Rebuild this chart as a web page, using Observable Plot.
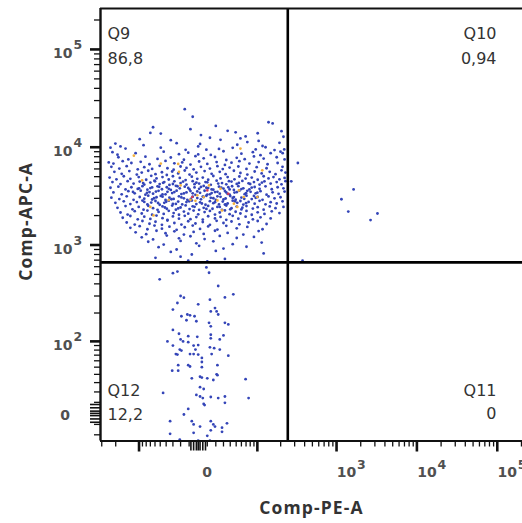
<!DOCTYPE html>
<html>
<head>
<meta charset="utf-8">
<script src="https://cdn.jsdelivr.net/npm/d3@7"></script>
<script src="https://cdn.jsdelivr.net/npm/@observablehq/plot@0.6"></script>
<style>
  html, body { margin: 0; padding: 0; background: #fff; overflow: hidden; }
  #chart { width: 522px; height: 523px; }
  .axis-title text { letter-spacing: 1.1px; }
</style>
</head>
<body>
<div id="chart"></div>
<script>
// ---------------- DATA (raw compensated fluorescence values) ----------------
// Q9 population (APC+ / PE-)
const q9PE = [
 -15, -6, 140,158, -64,20,-8.5,205, -70,-49,3,36,49,101,
 13,26,58,104,-98,217,-33,69,
 -202,-174,-25,52,73,117,193,-87,2,
 -150,-49,-14,0,24,44,95,128,167,-233,9,
 -220,-190,-111,-44,-22,-11,14,30,60,87,110,149,199,0,
 -185,-138,-82,-55,-33,-16,-3,6,19,34,51,67,90,121,178,224,
 -245,-214,-163,-126,-95,-72,-41,-28,-18,-8.5,1,10,21,32,42,56,78,104,136,183,
 -227,-180,-145,-104,-85,-66,-51,-38,-29,-20,-13,-5,3,13,22,29,39,54,71,98,132,211,
 -208,-168,-134,-107,-92,-75,-59,-47,-39,-31,-23,-15,-9.5,-2,7,15,25,33,46,58,73,92,114,145,172,230,
 -239,-196,-158,-130,-101,-80,-68,-57,-46,-36,-30,-21,-14,-7,-1,5,11,17,26,36,47,56,69,84,101,121,140,162,193,224,
 -220,-174,-141,-118,-98,-85,-70,-61,-51,-43,-35,-28,-20,-13,-6,1,8,14,21,28,34,42,51,62,76,90,107,124,149,178,205,230,-2,
 -233,-185,-150,-126,-104,-90,-77,-66,-55,-47,-39,-33,-26,-21,-15,-9.5,-4,1,6,11,17,24,30,37,46,54,64,78,92,107,128,154,183,217,39,9,
 -214,-168,-138,-114,-95,-82,-72,-64,-53,-46,-38,-31,-25,-19,-13,-8.5,-3,2,7,13,19,25,32,39,47,56,67,81,95,110,132,158,188,224,15,34,73,-6,
 -227,-180,-145,-118,-98,-85,-75,-66,-57,-49,-41,-35,-29,-22,-16,-12,-6,-1,3,9,14,20,26,33,40,49,60,71,84,101,117,140,167,199,22,44,90,6,
 -202,-158,-130,-107,-90,-77,-68,-59,-51,-43,-36,-30,-23,-18,-13,-7,-2,2,8,13,17,24,29,36,44,52,64,76,92,107,128,149,178,211,58,32,
 -190,-150,-122,-101,-87,-75,-64,-55,-46,-39,-31,-26,-20,-14,-9.5,-4,1,6,11,16,22,28,34,42,51,60,71,87,101,121,145,172,217,
 -174,-141,-114,-92,-77,-66,-53,-44,-36,-29,-22,-16,-11,-5,0,7,13,19,25,32,39,49,58,71,84,101,124,154,193,
 -163,-130,-104,-85,-70,-57,-46,-38,-30,-22,-15,-8.5,-2,5,11,19,26,34,44,54,69,87,110,149,
 -145,-114,-90,-72,-59,-47,-38,-28,-19,-11,-3,5,13,21,30,42,56,76,101,132,
 -130,-98,-77,-61,-47,-35,-25,-15,-6,2,11,22,34,51,73,117,
 -111,-80,-57,-41,-28,-16,-5,6,19,36,64,104,
 -92,-64,-39,-22,-8.5,7,25,51,90,
 -75,-44,-20,-2,17,44,114,
 -53,-25,1,30,71,
 -33,-7,20,121,
 -20,32,-59,
 -11,10,
 212,222,205,
 -60,-45,-30,-17,-4,10,23,38,55,80,-88,115,
 -70,-52,-36,-24,-11,3,15,27,43,60,84,-100,
 -78,-58,-41,-28,-16,-1,10,22,36,51,70,100,-120,
 -62,-46,-32,-19,-8,5,17,30,46,66,95,
 -54,-40,-26,-10,4,19,33,48,70,-85,
 -42,-23,-6,9,25,40,62
];
const q9APC = [
 24500, 20500, 18000,17500, 16000,16500,15300,14600, 14000,13800,13300,14700,14200,13900,
 12500,11900,12300,11600,12100,12800,11800,12900,
 10900,10200,11000,10600,11300,10300,11100,10500,10800,
 9700,9900,9400,10200,9600,9850,9500,10000,9350,9900,9450,
 8900,8400,8700,9000,8500,8800,8350,9100,8600,8900,8300,8700,9000,8450,
 7900,7500,8000,7600,7850,7450,8100,7700,7950,7400,7800,7550,8050,7650,7900,7500,
 7000,6800,7200,6900,7100,6700,7250,6850,7000,6650,7150,6750,7050,6600,6950,7200,6800,7050,6700,6900,
 6300,6050,6400,5950,6250,6000,6450,6100,5900,6350,6150,5950,6300,6050,6400,5980,6200,6350,6000,6250,6100,6300,
 5600,5350,5700,5250,5500,5750,5300,5550,5200,5650,5400,5780,5250,5500,5700,5350,5600,5300,5750,5450,5250,5650,5400,5600,5300,5500,
 4900,4700,5050,4750,4950,4650,5100,4800,4950,4680,5050,4850,4620,5000,4750,4900,4650,5080,4800,4950,4700,5020,4780,4900,4650,5050,4800,4950,4700,4850,
 4400,4200,4500,4250,4450,4150,4350,4550,4200,4400,4120,4480,4300,4150,4500,4250,4400,4130,4550,4300,4180,4450,4220,4520,4280,4400,4150,4480,4250,4400,4180,4500,4350,
 3850,3950,3700,3900,3750,4000,3680,3880,3980,3720,3900,3660,4030,3800,3950,3700,3880,3760,4020,3820,3680,3950,3780,3900,3660,4000,3800,3700,3920,3760,3980,3720,3900,3800,3700,3850,
 3450,3300,3550,3380,3600,3270,3480,3350,3580,3290,3500,3400,3600,3320,3450,3560,3260,3420,3590,3300,3480,3350,3570,3280,3440,3600,3310,3500,3380,3550,3270,3460,3340,3520,3400,3450,3580,3380,
 3050,2950,3150,2900,3100,2980,3200,2920,3080,3180,2890,3050,2960,3150,3000,2900,3120,3020,2930,3190,3040,2890,3110,2990,3170,2910,3060,3200,2950,3100,2900,3140,3000,3080,3150,3030,3180,3100,
 2700,2800,2620,2750,2850,2600,2720,2820,2580,2700,2840,2640,2780,2600,2750,2850,2620,2730,2580,2810,2680,2600,2780,2660,2840,2700,2590,2760,2650,2830,2610,2740,2660,2800,2820,2590,
 2400,2500,2320,2450,2300,2520,2380,2290,2480,2350,2530,2300,2420,2540,2330,2460,2290,2400,2510,2350,2450,2290,2530,2380,2470,2310,2500,2360,2440,2300,2480,2380,2450,
 2150,2050,2220,2100,2250,2040,2180,2080,2240,2120,2040,2200,2090,2250,2060,2170,2230,2050,2150,2260,2070,2190,2100,2230,2040,2160,2080,2210,2120,
 1900,1980,1830,1950,1850,2000,1880,1810,1960,1860,1990,1840,1930,1820,1970,1870,1940,1810,1990,1860,1950,1830,1920,1870,
 1700,1620,1760,1650,1730,1610,1780,1680,1620,1750,1660,1720,1610,1770,1680,1740,1630,1700,1760,1640,
 1500,1560,1450,1580,1470,1540,1430,1520,1580,1460,1550,1440,1570,1480,1530,1450,
 1350,1290,1400,1320,1380,1280,1360,1300,1400,1330,1280,1390,
 1200,1140,1250,1170,1230,1150,1240,1180,1210,
 1080,1010,1100,1040,1090,1020,1060,
 950,900,980,920,960,
 850,800,870,820,
 760,720,740,
 690,680,
 8700,9500,5800,
 4480,4330,4210,4460,4190,4380,4250,4500,4320,4210,4300,4350,
 3820,3940,3760,3990,3830,3930,3700,3860,3990,3730,3870,3800,
 3420,3520,3300,3480,3370,3530,3280,3500,3330,3470,3390,3430,3490,
 3010,3120,2940,3070,2960,3130,3010,2920,3090,2970,3040,
 2690,2770,2630,2800,2660,2740,2610,2790,2680,2760,
 2420,2370,2490,2340,2450,2320,2410
];
// higher-density events (shown orange / red by the density colouring)
const q9DensePE  = [-117,-91,-70,-63,-49,-23,-22,-1,6,22,28,52,55,65,58,116,-8.5,-3,-36,26,46,-20,12,100];
const q9DenseAPC = [8200,4580,2450,2010,6800,6750,5600,3220,3100,2860,2260,2450,3620,3100,9700,5800,2900,2830,2880,3770,2650,4070,4070,3100];
const q9PeakPE  = [-6.5, 37, 10];
const q9PeakAPC = [3100, 3350, 3620];
// Q12 population (APC- / PE-)
const q12PE = [
 -51,-30,-24,9,12,23,45,32,-20,-16, -24,0,13,-30,14,19,21,23,-12,-9,
 -19,-4,-13,-2,12,14,32,37,-30,-22, -11,-1,14,14,30,25,-38,-20,-17,-11,
 -30,-5,0,13,18,-21,-19,-3,25,-26, -24,-9,-5,0,4,15,37,4,-23,-11,
 -9,22,4,-31,-23,21,22,-7,2,4, 10,17,69,-45,2,6,-2,2,5,14,
 23,32,32,76,6,7,-11,-16,-34,-7, -5,2,14,17,35,28,28,-34,-5,10,
 -21,0,13,14,19
];
const q12APC = [
 445,515,535,590,520,380,312,290,300,288, 254,246,275,217,208,225,208,193,193,189,
 185,185,168,164,158,145,158,152,133,121, 114,112,118,108,116,105,100,105,100,98,
 90,90,91,86,84,81,79,81,81,72, 71,72,72,71,65,72,69,58,53,53,
 51,53,50,45,45,40,39,35,37,36, 35,33,34,19,25,23,17,15.5,14,15,
 14,15.5,9.5,14,8.5,7.5,4,-1,-7,-7, -10,-12,-7,-10,-9,-13,-17,-19,-18,-21,
 -25,-26,-26,-15.6,-12
];
// Q10 population (APC+ / PE+)
const q10PE  = [329, 272, 1150, 1630, 1400, 2650, 3230, 377];
const q10APC = [6900, 4480, 2940, 3700, 2200, 1800, 2100, 690];

// quadrant gate and statistics
const gatePE = 246;
const gateAPC = 664;
const quadNames = ["Q9", "Q10", "Q11", "Q12"];
const quadPcts  = ["86,8", "0,94", "0", "12,2"];

// axes
const xExtent = [-311, 206000];
const yExtent = [-26.5, 262144];
const xPowers = [1000, 10000, 100000];
const xPowerExp = ["3", "4", "5"];
const yPowers = [100, 1000, 10000, 100000];
const yPowerExp = ["2", "3", "4", "5"];
const zeroTick = [0];
const zeroLabel = ["0"];
const xTitle = "Comp-PE-A";
const yTitle = "Comp-APC-A";

// ---------------- biexponential (arcsinh) display transform ----------------
const W = 38;
const T = v => Math.asinh(v / W) / Math.LN10;

const zip = (a, b) => a.map((v, i) => ({pe: v, apc: b[i]}));
const events = zip(q9PE, q9APC).concat(zip(q12PE, q12APC), zip(q10PE, q10APC));
const dense = zip(q9DensePE, q9DenseAPC);
const peak = zip(q9PeakPE, q9PeakAPC);

// tick value sets
const inX = v => v >= xExtent[0] && v <= xExtent[1];
const inY = v => v >= yExtent[0] && v <= yExtent[1];
const mults = [2,3,4,5,6,7,8,9];
const minorBase = [];
for (const d of [10, 100, 1000, 10000, 100000]) for (const k of mults) minorBase.push(k * d);
minorBase.push(10);
const fine = [2, 5, 8];
const xMajor = [-100, 100, 1000, 10000, 100000].filter(inX);
const xMinor = minorBase.concat(minorBase.map(v => -v)).filter(inX);
const xFine = fine.concat(fine.map(v => -v), [0]).filter(inX);
const yMajor = [100, 1000, 10000, 100000].filter(inY);
const yMinor = minorBase.concat(minorBase.map(v => -v)).filter(inY);
const yFine = fine.concat(fine.map(v => -v), [0]).filter(inY);

const blank = () => "";
const labelStyle = {fontSize: 14, fontWeight: "bold", fill: "#505050", lineAnchor: "middle"};
const supStyle = {fontSize: 12.5, fontWeight: "bold", fill: "#505050", lineAnchor: "middle"};
const quadStyle = {fontSize: 16, fill: "#333", lineAnchor: "middle"};
const titleStyle = {lineAnchor: "middle", fontSize: 17.5, fontWeight: "bold", fontFamily: "Open Sans", fill: "#333", className: "axis-title"};

const quadMark = (i, anchor, tAnchor, dx, dyName, dyPct) => [
  Plot.text([quadNames[i]], {text: d => d, frameAnchor: anchor, textAnchor: tAnchor, dx, dy: dyName, ...quadStyle}),
  Plot.text([quadPcts[i]], {text: d => d, frameAnchor: anchor, textAnchor: tAnchor, dx, dy: dyPct, ...quadStyle})
];

const plot = Plot.plot({
  width: 522,
  height: 523,
  marginLeft: 100,
  marginRight: 0,
  marginTop: 8,
  marginBottom: 82.5,
  style: {fontFamily: "DejaVu Sans, sans-serif", background: "white", overflow: "hidden"},
  x: {type: "linear", domain: xExtent.map(T)},
  y: {type: "linear", domain: yExtent.map(T)},
  marks: [
    // events
    Plot.dot(events, {x: d => T(d.pe), y: d => T(d.apc), r: 1.4, fill: "#3445b8"}),
    Plot.dot(dense, {x: d => T(d.pe), y: d => T(d.apc), r: 1.35, fill: "#f2b03c"}),
    Plot.dot(peak, {x: d => T(d.pe), y: d => T(d.apc), r: 1.3, fill: "#d93a55"}),
    // quadrant gate
    Plot.ruleX([T(gatePE)], {stroke: "black", strokeWidth: 2.6}),
    Plot.ruleY([T(gateAPC)], {stroke: "black", strokeWidth: 2.6}),
    // frame (right side is cut off by the window)
    Plot.ruleY([T(yExtent[1]), T(yExtent[0])], {stroke: "#111", strokeWidth: 2}),
    Plot.ruleX([T(xExtent[0])], {stroke: "#111", strokeWidth: 2.4}),
    // x axis ticks
    Plot.axisX(xMinor.map(T), {anchor: "bottom", tickSize: 6, strokeWidth: 1.3, stroke: "#111", tickFormat: blank, label: null}),
    Plot.axisX(xFine.map(T), {anchor: "bottom", tickSize: 10, strokeWidth: 1.6, stroke: "#111", tickFormat: blank, label: null}),
    Plot.axisX(xMajor.map(T), {anchor: "bottom", tickSize: 11, strokeWidth: 2.6, stroke: "#111", tickFormat: blank, label: null}),
    // y axis ticks
    Plot.axisY(yMinor.map(T), {anchor: "left", tickSize: 6, strokeWidth: 1.3, stroke: "#111", tickFormat: blank, label: null}),
    Plot.axisY(yFine.map(T), {anchor: "left", tickSize: 10, strokeWidth: 1.6, stroke: "#111", tickFormat: blank, label: null}),
    Plot.axisY(yMajor.map(T), {anchor: "left", tickSize: 10, strokeWidth: 2.6, stroke: "#111", tickFormat: blank, label: null}),
    // x tick labels
    Plot.text(zeroLabel, {x: zeroTick.map(T), text: d => d, frameAnchor: "bottom", textAnchor: "middle", dx: 9, dy: 32, ...labelStyle}),
    Plot.text(xPowers, {x: d => T(d), text: () => "10", frameAnchor: "bottom", textAnchor: "middle", dx: 10, dy: 32, ...labelStyle}),
    Plot.text(xPowers, {x: d => T(d), text: (d, i) => xPowerExp[i], frameAnchor: "bottom", textAnchor: "start", dx: 20.5, dy: 23.5, ...supStyle}),
    // y tick labels
    Plot.text(zeroLabel, {y: zeroTick.map(T), text: d => d, frameAnchor: "left", textAnchor: "middle", dx: -35.5, dy: 2, ...labelStyle}),
    Plot.text(yPowers, {y: d => T(d), text: () => "10", frameAnchor: "left", textAnchor: "end", dx: -28, dy: 4, ...labelStyle}),
    Plot.text(yPowers, {y: d => T(d), text: (d, i) => yPowerExp[i], frameAnchor: "left", textAnchor: "start", dx: -27, dy: -4.5, ...supStyle}),
    // axis titles
    Plot.text([xTitle], {text: d => d, frameAnchor: "bottom", dy: 67, ...titleStyle}),
    Plot.text([yTitle], {text: d => d, frameAnchor: "left", rotate: -90, dx: -74, dy: 56, ...titleStyle}),
    // quadrant statistics
    ...quadMark(0, "top-left", "start", 7, 25, 50),
    ...quadMark(1, "top-right", "end", -26, 25, 50),
    ...quadMark(2, "bottom-right", "end", -26, -50.5, -27.5),
    ...quadMark(3, "bottom-left", "start", 7, -50.5, -26.5)
  ]
});
document.getElementById("chart").appendChild(plot);
</script>
</body>
</html>
